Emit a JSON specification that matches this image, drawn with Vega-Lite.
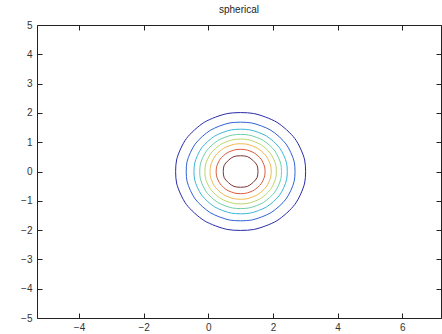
{
  "$schema": "https://vega.github.io/schema/vega-lite/v6.json",
  "width": 404,
  "height": 293,
  "autosize": {"type": "none"},
  "padding": {"left": 37, "top": 25, "right": 1, "bottom": 16},
  "background": "white",
  "config": {
    "view": {"stroke": "#222", "strokeWidth": 1},
    "axis": {"domain": false, "grid": false, "tickColor": "#222", "tickSize": -5, "tickWidth": 1, "labelFont": "Liberation Sans", "labelFontSize": 10, "labelColor": "#333"}
  },
  "title": {"text": "spherical", "font": "Liberation Sans", "fontSize": 10, "fontWeight": "normal", "color": "#222", "offset": 5, "anchor": "middle"},
  "data": {"values": [
    {"l":1,"i":0,"x":2.981,"y":0.394},{"l":1,"i":1,"x":2.680,"y":1.122},{"l":1,"i":2,"x":2.122,"y":1.680},{"l":1,"i":3,"x":1.394,"y":1.981},{"l":1,"i":4,"x":0.606,"y":1.981},{"l":1,"i":5,"x":-0.122,"y":1.680},{"l":1,"i":6,"x":-0.680,"y":1.122},{"l":1,"i":7,"x":-0.981,"y":0.394},{"l":1,"i":8,"x":-0.981,"y":-0.394},{"l":1,"i":9,"x":-0.680,"y":-1.122},{"l":1,"i":10,"x":-0.122,"y":-1.680},{"l":1,"i":11,"x":0.606,"y":-1.981},{"l":1,"i":12,"x":1.394,"y":-1.981},{"l":1,"i":13,"x":2.122,"y":-1.680},{"l":1,"i":14,"x":2.680,"y":-1.122},{"l":1,"i":15,"x":2.981,"y":-0.394},
    {"l":2,"i":0,"x":2.658,"y":0.330},{"l":2,"i":1,"x":2.405,"y":0.939},{"l":2,"i":2,"x":1.939,"y":1.405},{"l":2,"i":3,"x":1.330,"y":1.658},{"l":2,"i":4,"x":0.670,"y":1.658},{"l":2,"i":5,"x":0.061,"y":1.405},{"l":2,"i":6,"x":-0.405,"y":0.939},{"l":2,"i":7,"x":-0.658,"y":0.330},{"l":2,"i":8,"x":-0.658,"y":-0.330},{"l":2,"i":9,"x":-0.405,"y":-0.939},{"l":2,"i":10,"x":0.061,"y":-1.405},{"l":2,"i":11,"x":0.670,"y":-1.658},{"l":2,"i":12,"x":1.330,"y":-1.658},{"l":2,"i":13,"x":1.939,"y":-1.405},{"l":2,"i":14,"x":2.405,"y":-0.939},{"l":2,"i":15,"x":2.658,"y":-0.330},
    {"l":3,"i":0,"x":2.422,"y":0.283},{"l":3,"i":1,"x":2.206,"y":0.806},{"l":3,"i":2,"x":1.806,"y":1.206},{"l":3,"i":3,"x":1.283,"y":1.422},{"l":3,"i":4,"x":0.717,"y":1.422},{"l":3,"i":5,"x":0.194,"y":1.206},{"l":3,"i":6,"x":-0.206,"y":0.806},{"l":3,"i":7,"x":-0.422,"y":0.283},{"l":3,"i":8,"x":-0.422,"y":-0.283},{"l":3,"i":9,"x":-0.206,"y":-0.806},{"l":3,"i":10,"x":0.194,"y":-1.206},{"l":3,"i":11,"x":0.717,"y":-1.422},{"l":3,"i":12,"x":1.283,"y":-1.422},{"l":3,"i":13,"x":1.806,"y":-1.206},{"l":3,"i":14,"x":2.206,"y":-0.806},{"l":3,"i":15,"x":2.422,"y":-0.283},
    {"l":4,"i":0,"x":2.246,"y":0.248},{"l":4,"i":1,"x":2.056,"y":0.706},{"l":4,"i":2,"x":1.706,"y":1.056},{"l":4,"i":3,"x":1.248,"y":1.246},{"l":4,"i":4,"x":0.752,"y":1.246},{"l":4,"i":5,"x":0.294,"y":1.056},{"l":4,"i":6,"x":-0.056,"y":0.706},{"l":4,"i":7,"x":-0.246,"y":0.248},{"l":4,"i":8,"x":-0.246,"y":-0.248},{"l":4,"i":9,"x":-0.056,"y":-0.706},{"l":4,"i":10,"x":0.294,"y":-1.056},{"l":4,"i":11,"x":0.752,"y":-1.246},{"l":4,"i":12,"x":1.248,"y":-1.246},{"l":4,"i":13,"x":1.706,"y":-1.056},{"l":4,"i":14,"x":2.056,"y":-0.706},{"l":4,"i":15,"x":2.246,"y":-0.248},
    {"l":5,"i":0,"x":2.089,"y":0.217},{"l":5,"i":1,"x":1.923,"y":0.617},{"l":5,"i":2,"x":1.617,"y":0.923},{"l":5,"i":3,"x":1.217,"y":1.089},{"l":5,"i":4,"x":0.783,"y":1.089},{"l":5,"i":5,"x":0.383,"y":0.923},{"l":5,"i":6,"x":0.077,"y":0.617},{"l":5,"i":7,"x":-0.089,"y":0.217},{"l":5,"i":8,"x":-0.089,"y":-0.217},{"l":5,"i":9,"x":0.077,"y":-0.617},{"l":5,"i":10,"x":0.383,"y":-0.923},{"l":5,"i":11,"x":0.783,"y":-1.089},{"l":5,"i":12,"x":1.217,"y":-1.089},{"l":5,"i":13,"x":1.617,"y":-0.923},{"l":5,"i":14,"x":1.923,"y":-0.617},{"l":5,"i":15,"x":2.089,"y":-0.217},
    {"l":6,"i":0,"x":1.932,"y":0.185},{"l":6,"i":1,"x":1.790,"y":0.528},{"l":6,"i":2,"x":1.528,"y":0.790},{"l":6,"i":3,"x":1.185,"y":0.932},{"l":6,"i":4,"x":0.815,"y":0.932},{"l":6,"i":5,"x":0.472,"y":0.790},{"l":6,"i":6,"x":0.210,"y":0.528},{"l":6,"i":7,"x":0.068,"y":0.185},{"l":6,"i":8,"x":0.068,"y":-0.185},{"l":6,"i":9,"x":0.210,"y":-0.528},{"l":6,"i":10,"x":0.472,"y":-0.790},{"l":6,"i":11,"x":0.815,"y":-0.932},{"l":6,"i":12,"x":1.185,"y":-0.932},{"l":6,"i":13,"x":1.528,"y":-0.790},{"l":6,"i":14,"x":1.790,"y":-0.528},{"l":6,"i":15,"x":1.932,"y":-0.185},
    {"l":7,"i":0,"x":1.745,"y":0.148},{"l":7,"i":1,"x":1.632,"y":0.422},{"l":7,"i":2,"x":1.422,"y":0.632},{"l":7,"i":3,"x":1.148,"y":0.745},{"l":7,"i":4,"x":0.852,"y":0.745},{"l":7,"i":5,"x":0.578,"y":0.632},{"l":7,"i":6,"x":0.368,"y":0.422},{"l":7,"i":7,"x":0.255,"y":0.148},{"l":7,"i":8,"x":0.255,"y":-0.148},{"l":7,"i":9,"x":0.368,"y":-0.422},{"l":7,"i":10,"x":0.578,"y":-0.632},{"l":7,"i":11,"x":0.852,"y":-0.745},{"l":7,"i":12,"x":1.148,"y":-0.745},{"l":7,"i":13,"x":1.422,"y":-0.632},{"l":7,"i":14,"x":1.632,"y":-0.422},{"l":7,"i":15,"x":1.745,"y":-0.148},
    {"l":8,"i":0,"x":1.508,"y":0.210},{"l":8,"i":1,"x":1.210,"y":0.508},{"l":8,"i":2,"x":0.790,"y":0.508},{"l":8,"i":3,"x":0.492,"y":0.210},{"l":8,"i":4,"x":0.492,"y":-0.210},{"l":8,"i":5,"x":0.790,"y":-0.508},{"l":8,"i":6,"x":1.210,"y":-0.508},{"l":8,"i":7,"x":1.508,"y":-0.210}
  ]},
  "layer": [
    {
      "mark": {"type": "line", "strokeWidth": 1, "interpolate": "cardinal-closed", "tension": 0.2},
      "encoding": {
        "x": {"field": "x", "type": "quantitative", "scale": {"domain": [-5.3, 7.2], "nice": false, "zero": false},
              "axis": {"orient": "bottom", "title": null, "values": [-4, -2, 0, 2, 4, 6], "labelPadding": 9}},
        "y": {"field": "y", "type": "quantitative", "scale": {"domain": [-5, 5], "nice": false, "zero": false},
              "axis": {"orient": "left", "title": null, "values": [-5, -4, -3, -2, -1, 0, 1, 2, 3, 4, 5], "labelPadding": 10}},
        "color": {"field": "l", "type": "nominal", "legend": null,
                  "scale": {"domain": [1, 2, 3, 4, 5, 6, 7, 8], "range": ["#2a2aa8", "#2f63d6", "#3cb6d8", "#6fd0a8", "#b9d86a", "#f0b850", "#d85a3a", "#7a3434"]}},
        "detail": {"field": "l"},
        "order": {"field": "i", "type": "quantitative"}
      }
    },
    {
      "mark": {"type": "line", "opacity": 0},
      "encoding": {
        "x": {"field": "x", "type": "quantitative",
              "axis": {"orient": "top", "title": null, "values": [-4, -2, 0, 2, 4, 6], "labels": false}},
        "y": {"field": "y", "type": "quantitative",
              "axis": {"orient": "right", "title": null, "values": [-5, -4, -3, -2, -1, 0, 1, 2, 3, 4, 5], "labels": false}},
        "detail": {"field": "l"},
        "order": {"field": "i", "type": "quantitative"}
      }
    }
  ]
}
